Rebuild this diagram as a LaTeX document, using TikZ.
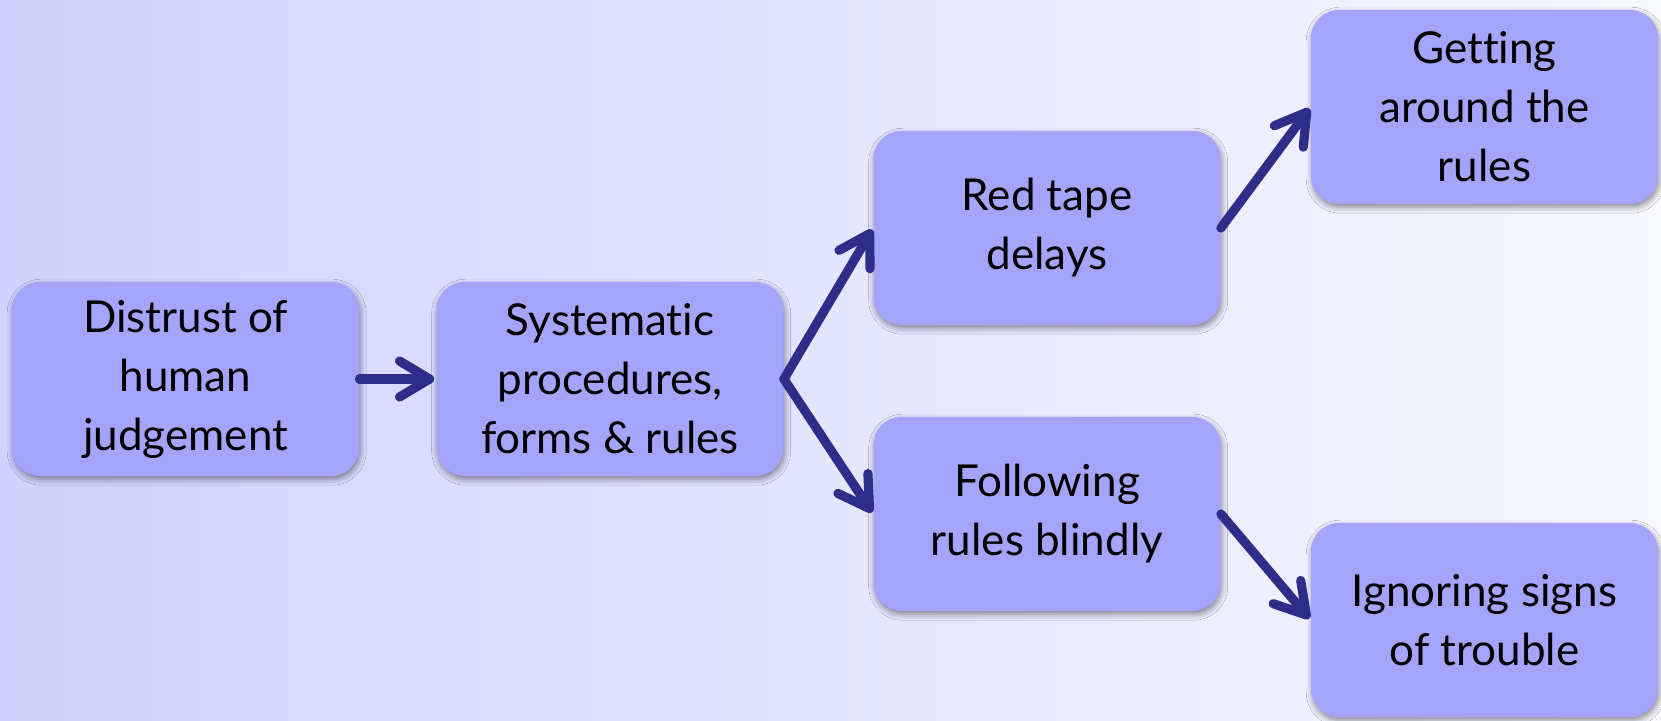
\documentclass[tikz,border=0pt]{standalone}
\usepackage{fontspec}
\setmainfont{Lato}[Ligatures={NoCommon}]
\usetikzlibrary{arrows.meta,shadows.blur}

\definecolor{bgleft}{HTML}{D0D2FF}
\definecolor{bgright}{HTML}{F8F8FF}
\definecolor{boxfill}{HTML}{A4A4FA}
\definecolor{arrowblue}{HTML}{2E2E8A}

\tikzset{
  stepbox/.style={rounded corners=14pt, fill=boxfill,
    minimum width=173.5pt, minimum height=97pt, inner sep=0pt,
    align=center, text=black, font=\fontsize{22}{29.5}\selectfont,
    blur shadow={shadow xshift=0.6pt, shadow yshift=-1.6pt,
      shadow blur radius=3pt, shadow opacity=45}},
  flow/.style={draw=arrowblue, line width=4.6pt, line cap=round,
    -{Straight Barb[length=15pt, width=18pt, round]}}
}

\begin{document}
\begin{tikzpicture}[x=0.5pt, y=-0.5pt]
  % page and background wash
  \useasboundingbox (0,0) rectangle (1661,720);
  \shade[left color=bgleft, right color=bgright] (0,0) rectangle (1661,720);

  % steps of the chain
  \node[stepbox] (distrust)   at (185.5,379)  {Distrust of\\human\\judgement};
  \node[stepbox] (procedures) at (610,379)    {Systematic\\procedures,\\forms \& rules};
  \node[stepbox] (redtape)    at (1047,228)   {Red tape\\delays};
  \node[stepbox] (blindly)    at (1047,514)   {Following\\rules blindly};
  \node[stepbox] (around)     at (1484.5,107) {Getting\\around the\\rules};
  \node[stepbox] (ignoring)   at (1484.5,620) {Ignoring signs\\of trouble};

  % consequences
  \draw[flow, shorten >=1pt] (distrust.east) -- (procedures.west);
  \draw[flow, shorten >=1pt] (procedures.east) -- (redtape.west);
  \draw[flow, shorten >=1pt] (procedures.east) -- (blindly.west);
  \draw[flow, shorten >=1pt] (redtape.east) -- (around.west);
  \draw[flow, shorten >=1pt] (blindly.east) -- (ignoring.west);
\end{tikzpicture}
\end{document}
